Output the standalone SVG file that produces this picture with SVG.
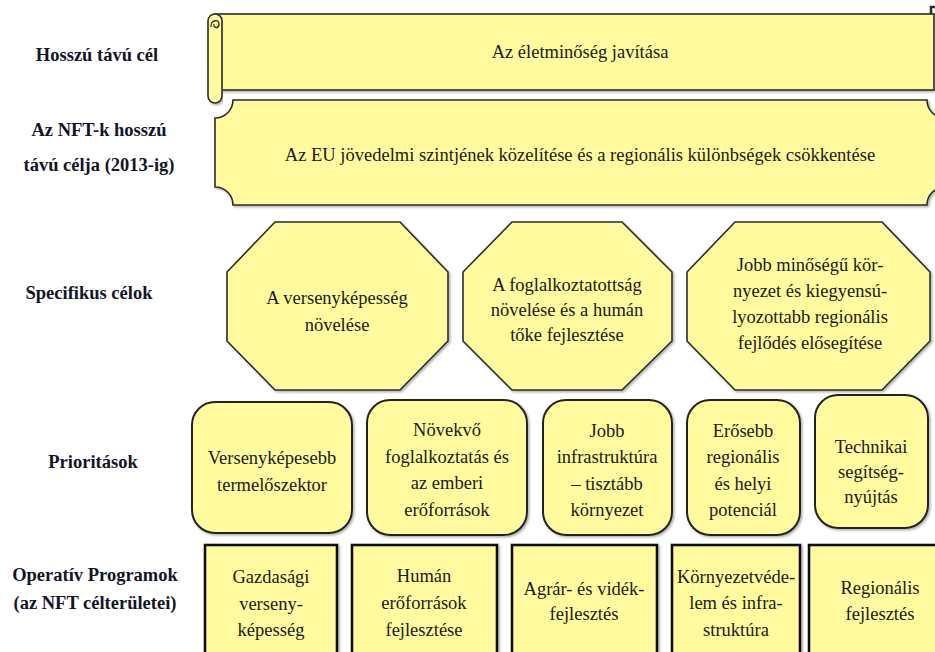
<svg xmlns="http://www.w3.org/2000/svg" width="935" height="652" viewBox="0 0 935 652" font-family="Liberation Serif, DejaVu Serif, serif">
<defs>
<filter id="sh" x="-5%" y="-5%" width="110%" height="110%">
<feDropShadow dx="1.5" dy="1.5" stdDeviation="0.8" flood-color="#777" flood-opacity="0.6"/>
</filter>
</defs>
<style>
.shape{fill:#FFFB9E;stroke:#2a2a2a;stroke-width:1.6;filter:url(#sh)}
.rr{fill:#FFFB9E;stroke:#222;stroke-width:2;filter:url(#sh)}
.sq{fill:#FFFB9E;stroke:#111;stroke-width:2.6;filter:url(#sh)}
text{font-family:'Liberation Serif','DejaVu Serif',serif;font-size:18.5px;fill:#1a1a1a;text-anchor:middle}
.lbl{font-weight:bold;fill:#141428}
</style>
<rect width="935" height="652" fill="#ffffff"/>

<g id="labels">
<text class="lbl" x="97" y="61">Hosszú távú cél</text>
<text class="lbl" x="99" y="136">Az NFT-k hosszú</text>
<text class="lbl" x="99" y="171">távú célja (2013-ig)</text>
<text class="lbl" x="89" y="299">Specifikus célok</text>
<text class="lbl" x="93" y="468">Prioritások</text>
<text class="lbl" x="95" y="581">Operatív Programok</text>
<text class="lbl" x="95" y="609">(az NFT célterületei)</text>
</g>

<g id="connectors"></g>

<g id="node-scroll">
<rect class="shape" x="215" y="14" width="719" height="76"/>
<rect class="shape" x="208" y="14" width="14" height="89" rx="7"/>
<path d="M211 27 C210 20 220 18 219 25 C218 29 213 28 214 24" fill="none" stroke="#2a2a2a" stroke-width="1.3"/>
<path d="M931 14 V7 H935" fill="none" stroke="#2a2a2a" stroke-width="2.5"/>
<text x="580" y="58">Az életminőség javítása</text>
</g>

<g id="node-plaque">
<path class="shape" d="M233 100 H927 A18 18 0 0 0 945 118 V187 A18 18 0 0 0 927 205 H233 A18 18 0 0 0 215 187 V118 A18 18 0 0 0 233 100 Z"/>
<text x="580" y="161">Az EU jövedelmi szintjének közelítése és a regionális különbségek csökkentése</text>
</g>

<g id="node-spec1">
<polygon class="shape" points="275,222 400,222 448,272 448,341 400,390 275,390 227,341 227,272"/>
<text x="337" y="304">A versenyképesség</text>
<text x="337" y="331">növelése</text>
</g>
<g id="node-spec2">
<polygon class="shape" points="512,222 622,222 672,272 672,341 622,390 512,390 463,341 463,272"/>
<text x="567" y="291">A foglalkoztatottság</text>
<text x="567" y="316">növelése és a humán</text>
<text x="567" y="341">tőke fejlesztése</text>
</g>
<g id="node-spec3">
<polygon class="shape" points="735,222 882,222 930,272 930,341 882,390 735,390 687,341 687,272"/>
<text x="810" y="271">Jobb minőségű kör-</text>
<text x="810" y="297">nyezet és kiegyensú-</text>
<text x="810" y="323">lyozottabb regionális</text>
<text x="810" y="349">fejlődés elősegítése</text>
</g>

<g id="node-prio1">
<rect class="rr" x="192" y="402" width="160" height="131" rx="23"/>
<text x="272" y="464">Versenyképesebb</text>
<text x="272" y="491">termelőszektor</text>
</g>
<g id="node-prio2">
<rect class="rr" x="367" y="400" width="160" height="135" rx="23"/>
<text x="447" y="436">Növekvő</text>
<text x="447" y="463">foglalkoztatás és</text>
<text x="447" y="489">az emberi</text>
<text x="447" y="516">erőforrások</text>
</g>
<g id="node-prio3">
<rect class="rr" x="543" y="400" width="129" height="135" rx="23"/>
<text x="607" y="437">Jobb</text>
<text x="607" y="463">infrastruktúra</text>
<text x="607" y="490">– tisztább</text>
<text x="607" y="516">környezet</text>
</g>
<g id="node-prio4">
<rect class="rr" x="687" y="400" width="113" height="135" rx="23"/>
<text x="743" y="437">Erősebb</text>
<text x="743" y="463">regionális</text>
<text x="743" y="490">és helyi</text>
<text x="743" y="516">potenciál</text>
</g>
<g id="node-prio5">
<rect class="rr" x="815" y="395" width="113" height="133" rx="23"/>
<text x="871" y="453">Technikai</text>
<text x="871" y="478">segítség-</text>
<text x="871" y="503">nyújtás</text>
</g>

<g id="node-op1">
<rect class="sq" x="205" y="545" width="132" height="120"/>
<text x="271" y="583">Gazdasági</text>
<text x="271" y="610">verseny-</text>
<text x="271" y="636">képesség</text>
</g>
<g id="node-op2">
<rect class="sq" x="352" y="545" width="145" height="120"/>
<text x="424" y="582">Humán</text>
<text x="424" y="609">erőforrások</text>
<text x="424" y="636">fejlesztése</text>
</g>
<g id="node-op3">
<rect class="sq" x="512" y="545" width="145" height="120"/>
<text x="584" y="595">Agrár- és vidék-</text>
<text x="584" y="620">fejlesztés</text>
</g>
<g id="node-op4">
<rect class="sq" x="672" y="545" width="128" height="120"/>
<text x="736" y="583">Környezetvéde-</text>
<text x="736" y="609">lem és infra-</text>
<text x="736" y="636">struktúra</text>
</g>
<g id="node-op5">
<rect class="sq" x="809" y="545" width="145" height="120"/>
<text x="880" y="594">Regionális</text>
<text x="880" y="620">fejlesztés</text>
</g>
</svg>
